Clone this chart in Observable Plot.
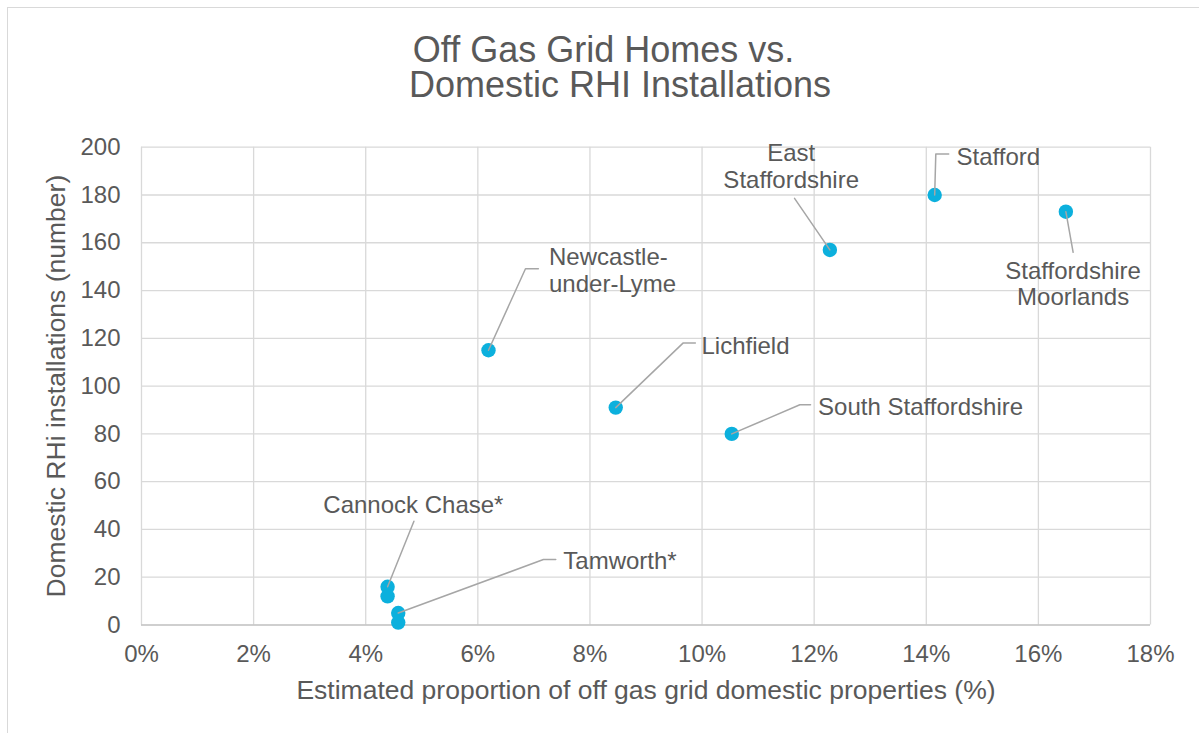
<!DOCTYPE html>
<html><head><meta charset="utf-8">
<script src="https://cdn.jsdelivr.net/npm/d3@7"></script>
<script src="https://cdn.jsdelivr.net/npm/@observablehq/plot@0.6"></script>
<style>
html,body{margin:0;padding:0;background:#fff;overflow:hidden}
#wrap{position:relative;width:1199px;height:733px;font-family:"Liberation Sans",Arial,sans-serif;color:#595959;overflow:hidden}
#border{position:absolute;left:7px;top:7px;width:1300px;height:900px;border:1px solid #d9d9d9;box-sizing:border-box;pointer-events:none;z-index:2}
#title{position:relative;height:110px;width:1199px;font-size:36px}
#tl{position:absolute;left:20.5px;top:32px;width:1199px;text-align:center;line-height:35px;white-space:pre;text-indent:-33px}
#chart svg{display:block}
</style></head>
<body>
<div id="wrap">
  <div id="title"><div id="tl"></div></div>
  <div id="chart"></div>
  <div id="border"></div>
</div>
<script>
// ---- data ----
const titleLines = ["Off Gas Grid Homes vs.", "Domestic RHI Installations"];
const xTitle = "Estimated proportion of off gas grid domestic properties (%)";
const yTitle = "Domestic RHi installations (number)";
const xTicks = [0, 2, 4, 6, 8, 10, 12, 14, 16, 18];
const yTicks = [0, 20, 40, 60, 80, 100, 120, 140, 160, 180, 200];

const pointX = [4.39, 4.39, 4.58, 4.58, 6.19, 8.46, 10.53, 12.28, 14.15, 16.49];
const pointY = [16, 12, 5, 1, 115, 91, 80, 157, 180, 173];
const labels = ["Cannock Chase*", "", "Tamworth*", "", "Newcastle-\nunder-Lyme", "Lichfield",
  "South Staffordshire", "East\nStaffordshire", "Stafford", "Staffordshire\nMoorlands"];
// annotation (data label) anchors and leader-line bends, in data units
const labelX = [4.85, null, 7.525, null, 7.27, 9.99, 12.07, 11.59, 14.54, 16.62];
const labelY = [50.4, null, 27.2, null, 148.5, 117.2, 91.6, 192.1, 196.3, 142.9];
const elbowX = [4.86, null, 7.17, null, 6.85, 9.66, 11.745, 11.65, 14.17, 16.62];
const elbowY = [43.4, null, 27.4, null, 149.1, 118, 92.2, 178.6, 197.2, 156];
const tailX  = [null, null, 7.39, null, 7.08, 9.88, 11.935, null, 14.40, null];

// ---- build tables ----
document.getElementById("tl").textContent = titleLines.join("\n");

const points = pointX.map((x, i) => ({x, y: pointY[i], name: labels[i]}));
const labelRows = [];
const leaderRows = [];
labels.forEach((lab, i) => {
  if (!lab) return;
  labelRows.push({text: lab, x: labelX[i], y: labelY[i], tail: tailX[i] != null});
  leaderRows.push({id: i, x: pointX[i], y: pointY[i]});
  leaderRows.push({id: i, x: elbowX[i], y: elbowY[i]});
  if (tailX[i] != null) leaderRows.push({id: i, x: tailX[i], y: elbowY[i]});
});

const textColor = "#595959";
const labelOpts = {x: "x", y: "y", text: "text", lineAnchor: "middle", lineHeight: 1.11, fontSize: 24, fill: textColor};
const chart = Plot.plot({
  width: 1199,
  height: 623,
  marginLeft: 141,
  marginRight: 49,
  marginTop: 36.7,
  marginBottom: 108.5,
  style: {fontFamily: "'Liberation Sans', Arial, sans-serif", fontSize: "24px", color: textColor, background: "transparent", overflow: "visible"},
  x: {domain: [0, 18]},
  y: {domain: [0, 200]},
  marks: [
    Plot.gridX(xTicks, {stroke: "#d9d9d9", strokeOpacity: 1, strokeWidth: 1.3}),
    Plot.gridY(yTicks.filter(d => d > 0), {stroke: "#d9d9d9", strokeOpacity: 1, strokeWidth: 1.3}),
    Plot.ruleY([0], {stroke: "#bfbfbf", strokeWidth: 1.5}),
    Plot.axisX({ticks: xTicks, tickFormat: d => d + "%", tickSize: 0, tickPadding: 20, label: null, fill: textColor}),
    Plot.axisY({ticks: yTicks, tickSize: 0, tickPadding: 21, label: null, fill: textColor}),
    Plot.text([xTitle], {frameAnchor: "bottom", dy: 66, lineAnchor: "middle", fontSize: 26.5, fill: textColor}),
    Plot.text([yTitle], {frameAnchor: "left", rotate: -90, dx: -84.5, lineAnchor: "middle", textAnchor: "middle", fontSize: 26.5, fill: textColor}),
    Plot.dot(points, {x: "x", y: "y", r: 7.2, fill: "#0cb0dd", stroke: null}),
    Plot.line(leaderRows, {x: "x", y: "y", z: "id", stroke: "#a6a6a6", strokeWidth: 1.5}),
    Plot.text(labelRows.filter(d => d.tail), {...labelOpts, textAnchor: "start"}),
    Plot.text(labelRows.filter(d => !d.tail), {...labelOpts, textAnchor: "middle"})
  ]
});
document.getElementById("chart").appendChild(chart);
</script>
</body></html>
